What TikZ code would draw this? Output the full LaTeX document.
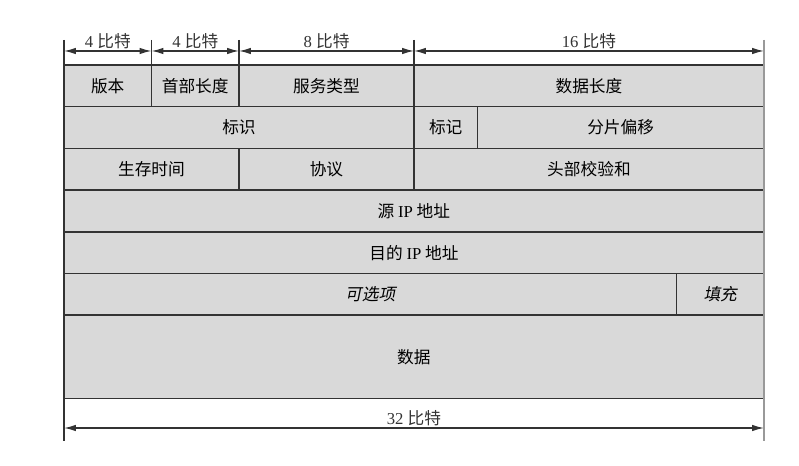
\documentclass[tikz,border=0pt]{standalone}
\usepackage{fontspec}
\setmainfont{Liberation Serif}
\newfontfamily\cjk{Noto Sans CJK SC}
\newfontfamily\cjkslant[FakeSlant=0.2]{Noto Sans CJK SC}
\usetikzlibrary{arrows.meta}
\definecolor{fieldgray}{HTML}{D9D9D9}
\definecolor{rulegray}{HTML}{333333}
\definecolor{edgegray}{HTML}{999999}
\newcommand{\bits}[1]{#1 {\cjk 比特}}

\begin{document}
\begin{tikzpicture}[x=0.02cm, y=-0.02cm,
    field/.style 2 args={draw=rulegray, line width=0.8pt, fill=fieldgray,
      anchor=north west, inner sep=0pt, outer sep=0pt, font=\cjk\fontsize{9.5}{11}\selectfont,
      minimum width=#1*0.4375cm, minimum height=#2*0.834cm},
    dim/.style={rulegray, line width=0.7pt, {Latex[length=2.4mm,width=1.3mm]}-{Latex[length=2.4mm,width=1.3mm]}},
    dimlabel/.style={above, inner sep=0.6pt, font=\fontsize{9.5}{11}\selectfont}]
\useasboundingbox (0,0) rectangle (799,466);

% header rows
\node[field={4}{1}] (ver) at (64,65) {版本};
\node[field={4}{1}] (ihl) at (151.5,65) {首部长度};
\node[field={8}{1}] (tos) at (239,65) {服务类型};
\node[field={16}{1}] (len) at (414,65) {数据长度};
\node[field={16}{1}] (ident) at (64,106.7) {标识};
\node[field={2.9}{1}] (flags) at (414,106.7) {标记};
\node[field={13.1}{1}] (frag) at (477.4,106.7) {分片偏移};
\node[field={8}{1}] (ttl) at (64,148.4) {生存时间};
\node[field={8}{1}] (proto) at (239,148.4) {协议};
\node[field={16}{1}] (cksum) at (414,148.4) {头部校验和};
\node[field={32}{1}] (src) at (64,190.1) {源 {\rmfamily IP} 地址};
\node[field={32}{1}] (dst) at (64,231.8) {目的 {\rmfamily IP} 地址};
\node[field={28}{1}, font=\cjkslant\fontsize{9.5}{11}\selectfont] (opts) at (64,273.5) {可选项};
\node[field={4}{1}, font=\cjkslant\fontsize{9.5}{11}\selectfont] (pad) at (676.5,273.5) {填充};
\node[field={32}{2}] (data) at (64,315.2) {数据};

% bit widths on top
\coordinate (t0) at (64,51);
\coordinate (t1) at (151.5,51);
\coordinate (t2) at (239,51);
\coordinate (t3) at (414,51);
\coordinate (t4) at (764,51);
\foreach \x in {151.5,239,414}
  \draw[rulegray, line width=0.7pt] (\x,40) -- (\x,65);
\draw[dim] (t0) -- node[dimlabel] (w0) {\bits{4}} (t1);
\draw[dim] (t1) -- node[dimlabel] (w1) {\bits{4}} (t2);
\draw[dim] (t2) -- node[dimlabel] (w2) {\bits{8}} (t3);
\draw[dim] (t3) -- node[dimlabel] (w3) {\bits{16}} (t4);

% total width below
\coordinate (b0) at (64,428);
\coordinate (b1) at (764,428);
\draw[dim] (b0) -- node[dimlabel] (wtot) {\bits{32}} (b1);

% outer edges
\draw[rulegray, line width=1.3pt] (64,40) -- (64,441);
\draw[edgegray, line width=0.8pt] (764,40) -- (764,441);
\end{tikzpicture}
\end{document}
